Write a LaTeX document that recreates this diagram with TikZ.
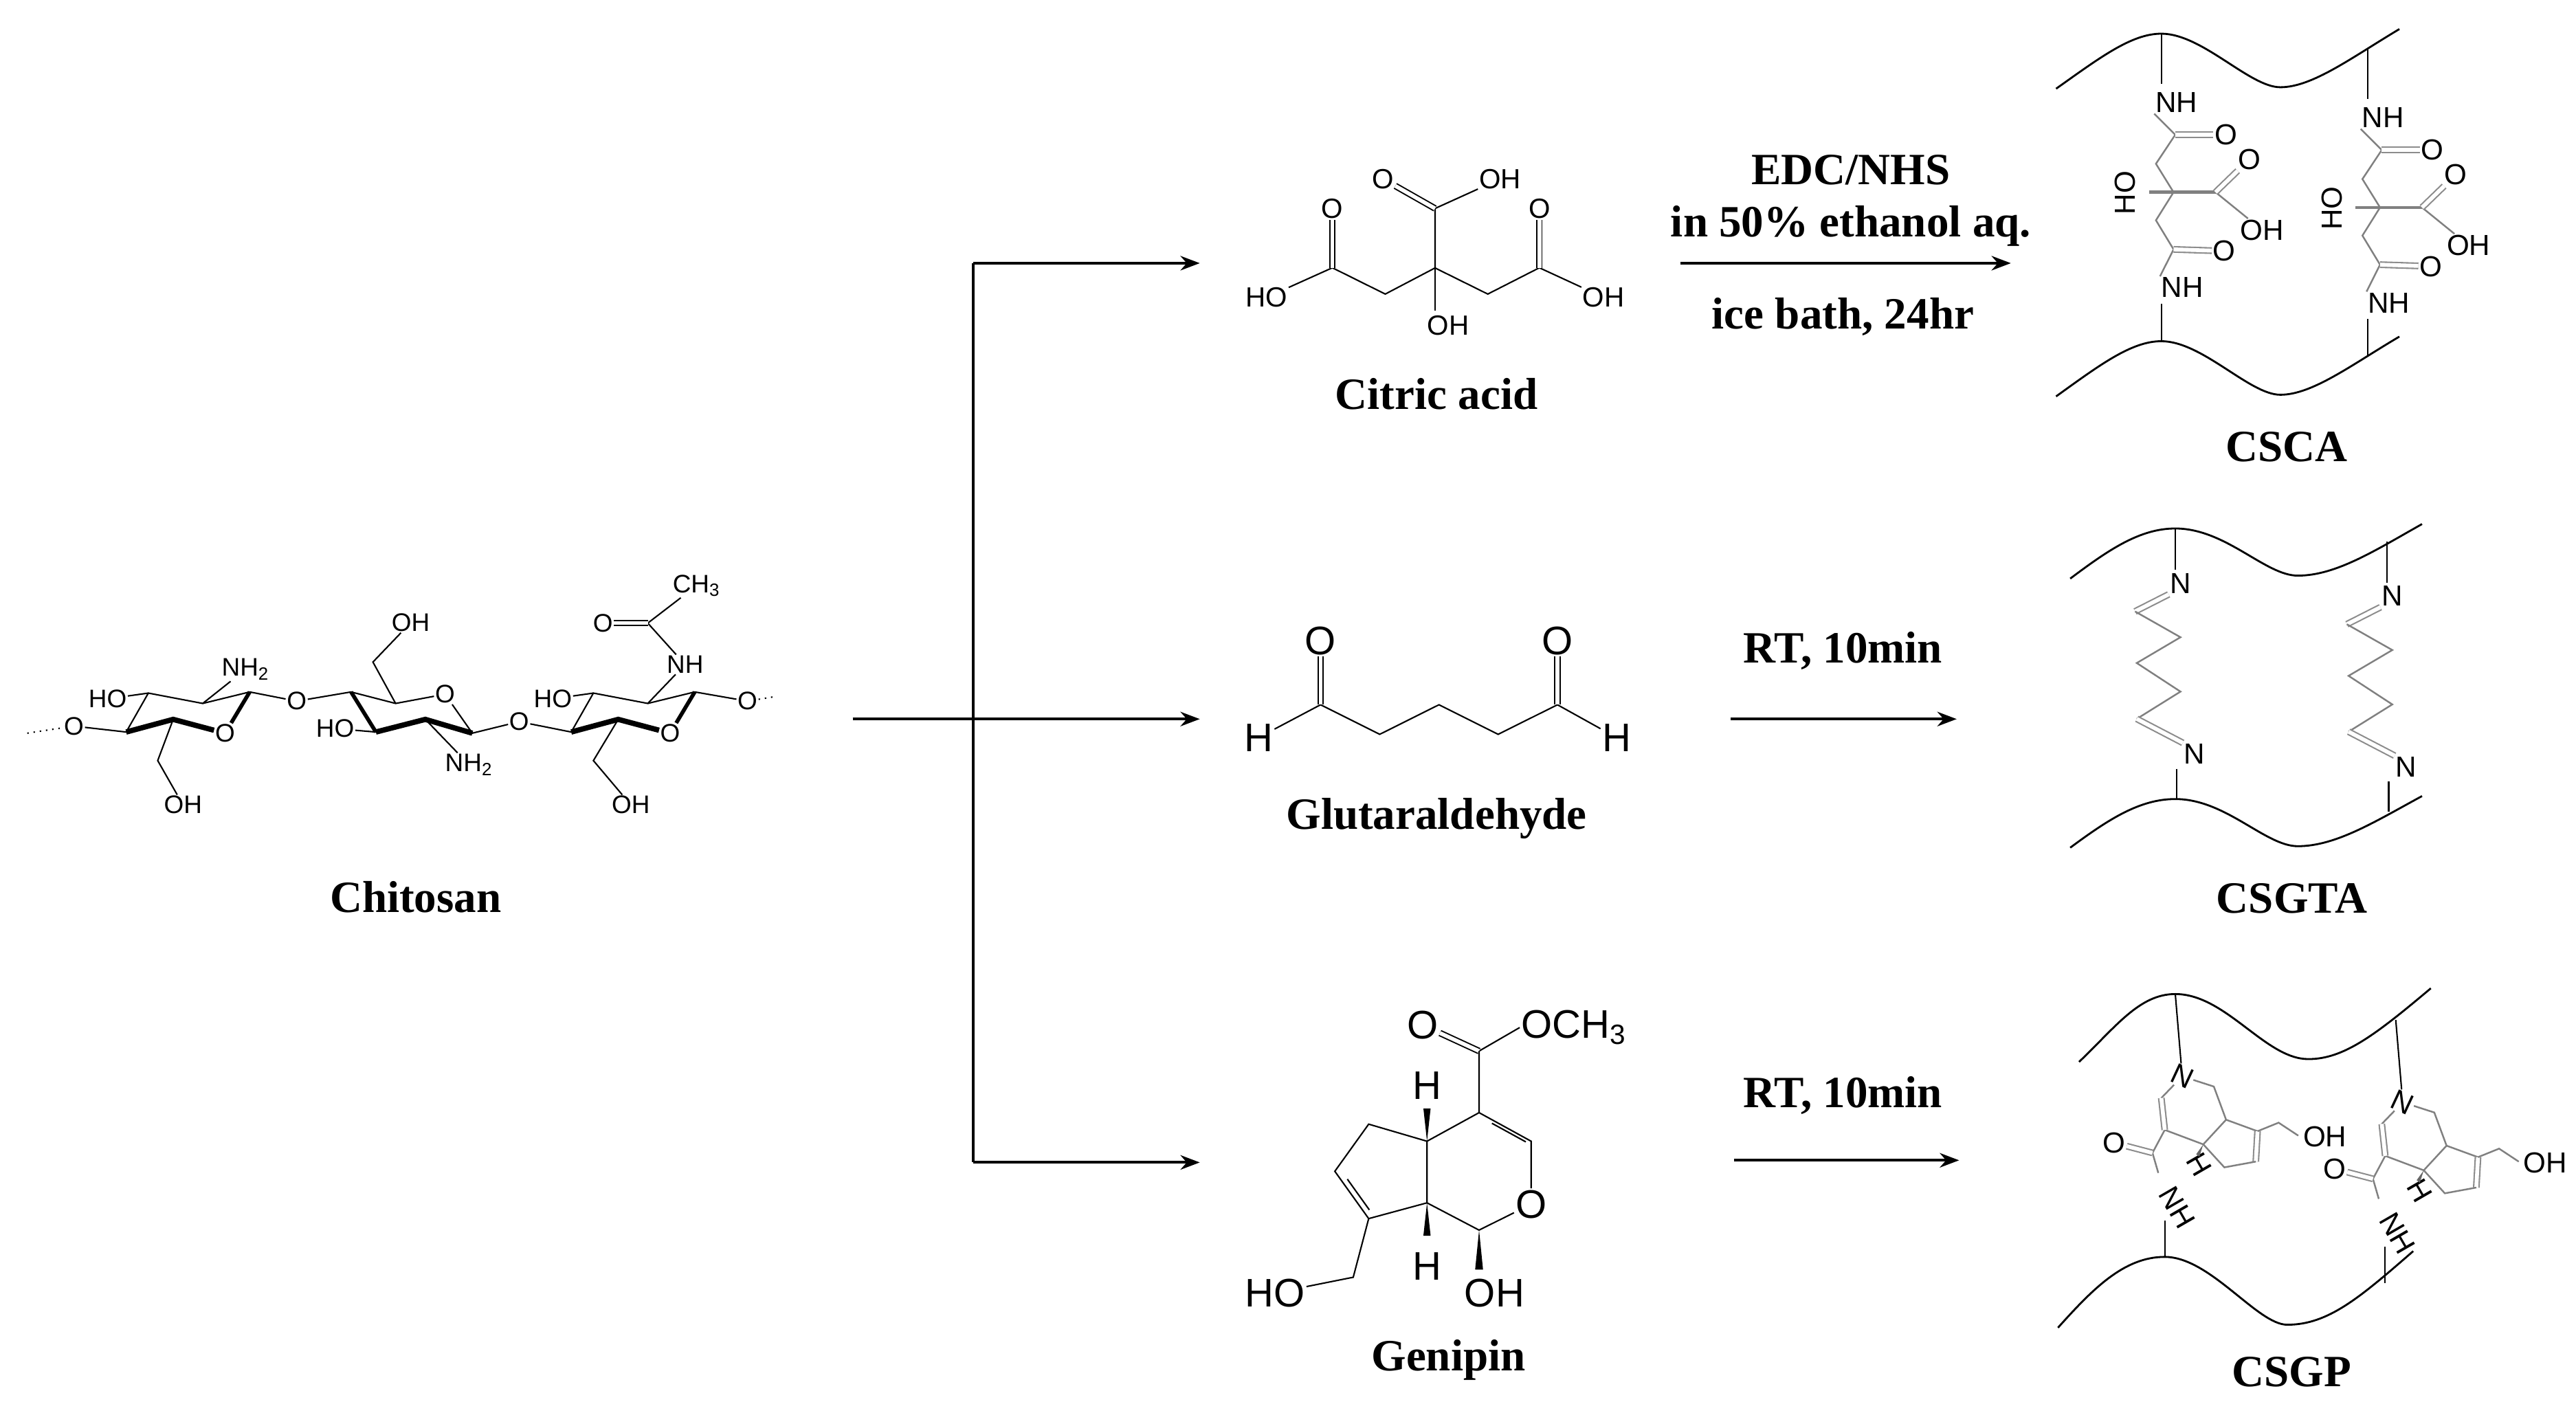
\documentclass[tikz,border=0pt]{standalone}
\usepackage{fontspec}
\setmainfont{Liberation Serif}
\setsansfont{Liberation Sans}
\usetikzlibrary{arrows.meta,calc}
\newcommand{\atomA}{\sffamily\fontsize{10.5}{11}\selectfont}
\newcommand{\atomB}{\sffamily\fontsize{11.5}{13}\selectfont}
\newcommand{\atomD}{\sffamily\fontsize{12}{13}\selectfont}
\newcommand{\atomC}{\sffamily\fontsize{16.5}{18}\selectfont}
\newcommand{\labF}{\rmfamily\bfseries\fontsize{18.5}{21}\selectfont}
\begin{document}
\begin{tikzpicture}[x=0.0239cm,y=-0.0239cm,
  bd/.style={line width=0.6pt},
  bold/.style={line width=2.2pt},
  gb/.style={line width=0.7pt,draw=black!50},
  dbl/.style={double,double distance=1.6pt,line width=0.55pt},
  gdbl/.style={double,double distance=1.6pt,line width=0.6pt,draw=black!45},
  chain/.style={line width=0.8pt},
  atm/.style={font=\atomA,inner sep=0.3pt},
  atb/.style={font=\atomB,inner sep=0.3pt},
  atd/.style={font=\atomD,inner sep=0.3pt},
  atc/.style={font=\atomC,inner sep=0.5pt},
  lab/.style={font=\labF,inner sep=1pt},
  arr/.style={line width=1.1pt,-{Stealth[length=8pt,width=6pt]}}]
\useasboundingbox (0,0) rectangle (1568,860);

% ================= Chitosan =================
\coordinate (a4) at (76.8,445.6); \coordinate (a3) at (90.3,421.9);
\coordinate (a2) at (123.4,428.2); \coordinate (a1) at (152,421.2);
\coordinate (a5) at (105.4,437.9); \node[atm] (aO5) at (137,446.3) {O};
\node[atm] (aOL) at (45,442) {O}; \coordinate (aDL) at (16.6,446.3);
\node[atm] (aHO) at (65.5,425.4) {HO};
\node[atm] (aN) at (149.5,407.5) {NH\textsubscript{2}};
\coordinate (a6) at (96,463); \node[atm] (aOH) at (111.4,490) {OH};
\node[atm] (g1) at (180.6,426.8) {O};
\coordinate (b4) at (213.7,421.2); \coordinate (b5) at (240.8,428.2);
\node[atm] (bO5) at (270.9,422.6) {O};
\coordinate (b1) at (287.5,446.3); \coordinate (b2) at (258.9,437.9);
\coordinate (b3) at (228.8,445.6);
\node[atm] (bHO) at (204,443.5) {HO};
\coordinate (b6) at (227,403); \node[atm] (bOH) at (250,379) {OH};
\node[atm] (bN) at (285.5,465.5) {NH\textsubscript{2}};
\node[atm] (g2) at (316,439.3) {O};
\coordinate (c4) at (347.7,445.6); \coordinate (c3) at (361.2,421.9);
\coordinate (c2) at (394.3,428.2); \coordinate (c1) at (422.9,421.2);
\coordinate (c5) at (376.3,437.9); \node[atm] (cO5) at (407.9,446.3) {O};
\node[atm] (cHO) at (336.5,425.4) {HO};
\node[atm] (cN) at (417,404.5) {NH};
\coordinate (cac) at (394.3,379.3); \node[atm] (cAO) at (367,379.3) {O};
\node[atm] (cMe) at (424,356.5) {CH\textsubscript{3}};
\node[atm] (cOR) at (455,426.8) {O}; \coordinate (cDR) at (472,424);
\coordinate (c6) at (361.2,463); \node[atm] (cOH) at (384,490) {OH};

\draw[bd,dotted] (aDL) -- (aOL);
\draw[bd] (aOL) -- (a4) -- (a3) -- (a2) -- (a1) -- (g1) -- (b4) -- (b5) -- (bO5) -- (b1) -- (g2) -- (c4) -- (c3) -- (c2) -- (c1) -- (cOR);
\draw[bd,dotted] (cOR) -- (cDR);
\draw[bold] (a4) -- (a5) -- (aO5);
\draw[line width=1.6pt] (a1) -- (aO5);
\draw[bold] (c4) -- (c5) -- (cO5);
\draw[line width=1.6pt] (c1) -- (cO5);
\draw[bold] (b1) -- (b2) -- (b3);
\draw[line width=1.6pt] (b3) -- (b4);
\draw[bd] (a3) -- (aHO); \draw[bd] (a2) -- (aN); \draw[bd] (a5) -- (a6) -- (aOH);
\draw[bd] (b3) -- (bHO); \draw[bd] (b5) -- (b6) -- (bOH); \draw[bd] (b2) -- (bN);
\draw[bd] (c3) -- (cHO); \draw[bd] (c2) -- (cN) -- (cac) -- (cMe);
\draw[dbl] (cac) -- (cAO);
\draw[bd] (c5) -- (c6) -- (cOH);
\node[lab] (chitosan) at (253,546) {Chitosan};

% ================= branches =================
\coordinate (s0) at (519,437.7);
\coordinate (vt) at (592.4,160.2); \coordinate (vb) at (592.4,707.6);
\coordinate (e1) at (730.3,160.2); \coordinate (e2) at (730.3,437.7); \coordinate (e3) at (730.3,707.6);
\draw[line width=1.1pt] (vt) -- (vb);
\draw[arr] (vt) -- (e1);
\draw[arr] (s0) -- (e2);
\draw[arr] (vb) -- (e3);

% ================= Citric acid =================
\coordinate (k0) at (873.5,163.1); \coordinate (kt) at (873.5,126.9);
\node[atb] (kO1) at (842,109) {O}; \node[atb] (kOH1) at (913,109) {OH};
\coordinate (kl2) at (843.2,179); \coordinate (kl) at (811,163);
\node[atb] (kO2) at (811,127) {O}; \node[atb] (kHO) at (771,181) {HO};
\coordinate (kr2) at (905.6,179); \coordinate (kr) at (937,163);
\node[atb] (kO3) at (937,127) {O}; \node[atb] (kOH3) at (976,181) {OH};
\node[atb] (kOH) at (881.6,198) {OH};
\draw[bd] (kHO) -- (kl) -- (kl2) -- (k0) -- (kr2) -- (kr) -- (kOH3);
\draw[bd] (k0) -- (kt) -- (kOH1); \draw[bd] (k0) -- (873.5,189);
\draw[dbl] (kt) -- (kO1); \draw[dbl] (kl) -- (kO2); \draw[dbl] (kr) -- (kO3);
\node[lab] (citric) at (874.4,240) {Citric acid};

% ================= Glutaraldehyde =================
\node[atc] (gH1) at (766,449) {H}; \coordinate (gc1) at (803.8,429);
\node[atc] (gO1) at (803.8,390) {O};
\coordinate (gc2) at (839.8,447); \coordinate (gc3) at (875.9,429);
\coordinate (gc4) at (911.9,447); \coordinate (gc5) at (948,429);
\node[atc] (gO5) at (948,390) {O}; \node[atc] (gH5) at (984,449) {H};
\draw[bd] (gH1) -- (gc1) -- (gc2) -- (gc3) -- (gc4) -- (gc5) -- (gH5);
\draw[dbl] (gc1) -- (gO1); \draw[dbl] (gc5) -- (gO5);
\node[lab] (glut) at (874.4,498.4) {Glutaraldehyde};

% ================= Genipin =================
\node[atc] (pO1) at (866,624) {O};
\node[atc,anchor=west] (pOMe) at (925,625.5) {OCH\textsubscript{3}};
\coordinate (pc) at (900.3,639.8); \coordinate (p4) at (900.3,677.3);
\coordinate (p3) at (932,694.7); \node[atc] (pOr) at (932,733) {O};
\coordinate (p1) at (900.3,748.8); \node[atc] (pOH) at (909.7,787) {OH};
\coordinate (p7a) at (868.6,732.2); \node[atc] (pH2) at (868.6,771) {H};
\coordinate (p4a) at (868.6,694.7); \node[atc] (pH1) at (868.6,661) {H};
\coordinate (p5) at (833.1,684.3); \coordinate (p6) at (812.5,713);
\coordinate (p7) at (833.1,741.8); \coordinate (p8) at (823.7,777.5);
\node[atc] (pHO) at (776,787) {HO};
\draw[bd] (pc) -- (pOMe.west);
\draw[dbl] (pc) -- (pO1);
\draw[bd] (pc) -- (p4) -- (p3) -- (pOr) -- (p1) -- (p7a) -- (p4a) -- (p4);
\draw[bd] (p4a) -- (p5) -- (p6) -- (p7) -- (p7a);
\draw[bd] ($(p4)!0.2!(p3)+(1.5,3)$) -- ($(p4)!0.85!(p3)+(1.5,3)$);
\draw[bd] ($(p6)!0.2!(p7)+(3.5,-1)$) -- ($(p6)!0.85!(p7)+(3.5,-1)$);
\draw[bd] (p7) -- (p8) -- (pHO);
\fill (p4a) -- ++(-2.2,-20) -- ++(4.4,0) -- cycle;
\fill (p7a) -- ++(-2.2,20) -- ++(4.4,0) -- cycle;
\fill (p1) -- ++(-2.4,24) -- ++(4.8,0) -- cycle;
\node[lab] (genipin) at (881.7,828) {Genipin};

% ================= reaction arrows =================
\coordinate (r1a) at (1023,160.2); \coordinate (r1b) at (1224,160.2);
\draw[arr] (r1a) -- (r1b);
\node[lab] (t1) at (1126.6,103.4) {EDC/NHS};
\node[lab] (t2) at (1126.6,137.5) {in 50\% ethanol aq.};
\node[lab] (t3) at (1121.8,193) {ice bath, 24hr};
\coordinate (r2a) at (1053.6,437.7); \coordinate (r2b) at (1191,437.7);
\draw[arr] (r2a) -- (r2b);
\node[lab] (t4) at (1121.8,396) {RT, 10min};
\coordinate (r3a) at (1055.5,706.3); \coordinate (r3b) at (1192.5,706.3);
\draw[arr] (r3a) -- (r3b);
\node[lab] (t5) at (1121.8,667) {RT, 10min};

\begin{scope}[x=0.022872cm, xshift=1.269cm]
% ================= CSCA =================
\draw[chain] (1252,54) .. controls (1280,35) and (1300,20.5) .. (1318.9,20.5)
  .. controls (1345,20.5) and (1375,53.1) .. (1394.6,53.1)
  .. controls (1415,53.1) and (1440,35) .. (1470.3,17.7);
\draw[chain] (1252,241.3) .. controls (1280,222) and (1300,207.7) .. (1318.9,207.7)
  .. controls (1345,207.7) and (1375,240.3) .. (1394.6,240.3)
  .. controls (1415,240.3) and (1440,222) .. (1470.3,204.9);
\foreach \dx/\dy/\n in {0/0/L,131.3/9.3/R}{
 \begin{scope}[shift={(\dx,\dy)}]
  \coordinate (xT\n) at (1318.9,20.5);
  \coordinate (xTe\n) at (1318.9,51);
  \node[atd] (xN1\n) at (1328.5,62.4) {NH};
  \coordinate (xC1\n) at (1327.8,82);
  \node[atd] (xO1\n) at (1360,82) {O};
  \coordinate (xM1\n) at (1315.5,99.7);
  \coordinate (xQ\n) at (1326.7,117);
  \node[atd,rotate=90] (xHO\n) at (1296,117.4) {HO};
  \coordinate (xHOe\n) at (1311,117);
  \coordinate (xK\n) at (1353.4,117);
  \node[atd] (xO2\n) at (1375,97) {O};
  \node[atd] (xOH\n) at (1383,140) {OH};
  \coordinate (xM2\n) at (1315.5,134.1);
  \coordinate (xC2\n) at (1326.7,151.8);
  \node[atd] (xO3\n) at (1359,152.8) {O};
  \node[atd] (xN2\n) at (1332.2,175) {NH};
  \coordinate (xBe\n) at (1318.9,185);
  \coordinate (xB\n) at (1318.9,207.7);
  \draw[bd] (xT\n) -- (xTe\n);
  \draw[bd] (xBe\n) -- (xB\n);
  \draw[gb] (xN1\n.south west) -- (xC1\n) -- (xM1\n) -- (xQ\n) -- (xM2\n) -- (xC2\n) -- (xN2\n.north west);
  \draw[gb,line width=1.3pt] (xHOe\n) -- (xQ\n) -- (xK\n);
  \draw[gb] (xK\n) -- (xOH\n);
  \draw[gdbl] (xC1\n) -- (xO1\n); \draw[gdbl] (xC2\n) -- (xO3\n);
  \draw[gdbl] (xK\n) -- (xO2\n);
 \end{scope}}

% ================= CSGTA =================
\draw[chain] (1261,352.2) .. controls (1285,335) and (1305,321.7) .. (1327.8,321.7)
  .. controls (1360,321.7) and (1385,350.4) .. (1405.7,350.4)
  .. controls (1430,350.4) and (1455,335) .. (1484.7,319);
\draw[chain] (1261,516) .. controls (1285,499) and (1305,486.4) .. (1327.8,486.4)
  .. controls (1360,486.4) and (1385,515.1) .. (1405.7,515.1)
  .. controls (1430,515.1) and (1455,500) .. (1484.7,484.6);
\foreach \dx/\dy/\n in {0/0/L,134.7/7.8/R}{
 \begin{scope}[shift={(\dx,\dy)}]
  \coordinate (yT\n) at (1327.8,321.7);
  \node[atd] (yN1\n) at (1331,355) {N};
  \coordinate (y1\n) at (1302.2,372.2); \coordinate (y2\n) at (1331.1,387.9);
  \coordinate (y3\n) at (1303.3,403.6); \coordinate (y4\n) at (1331.1,421);
  \coordinate (y5\n) at (1303.3,437.6);
  \node[atd] (yN2\n) at (1340,459) {N};
  \coordinate (yB\n) at (1328.8,486.4);
  \coordinate (yTe\n) at (1327.8,347); \coordinate (yBe\n) at (1328.8,468);
  \draw[bd] (yT\n) -- (yTe\n);
  \draw[bd] (yBe\n) -- (yB\n);
  \draw[gdbl] (yN1\n.south west) -- (y1\n);
  \draw[gb] (y1\n) -- (y2\n) -- (y3\n) -- (y4\n) -- (y5\n);
  \draw[gdbl] (y5\n) -- (yN2\n.north west);
 \end{scope}}

% ================= CSGP =================
\draw[chain] (1266.6,646.4) .. controls (1290,625) and (1305,605.1) .. (1327.8,605.1)
  .. controls (1360,605.1) and (1385,644.7) .. (1412.4,644.7)
  .. controls (1435,644.7) and (1455,630) .. (1490.3,601.6);
\draw[chain] (1253.2,808.2) .. controls (1275,785) and (1295,765.1) .. (1321.1,765.1)
  .. controls (1350,765.1) and (1380,806.4) .. (1399,806.4)
  .. controls (1425,806.4) and (1445,790) .. (1479.1,761.6);
\foreach \dx/\dy/\n in {0/0/L,140.2/15.8/R}{
 \begin{scope}[shift={(\dx,\dy)}]
  \coordinate (zT\n) at (1327.8,605.1);
  \node[atd,rotate=-25] (zN\n) at (1332.2,655.2) {N};
  \coordinate (z1\n) at (1318.9,668.4); \coordinate (z2\n) at (1321.1,687.8);
  \coordinate (z4a\n) at (1345.6,696.6); \coordinate (z7a\n) at (1360.1,681.6);
  \coordinate (zc\n) at (1352.3,661.4);
  \coordinate (z6\n) at (1380.1,688.6); \coordinate (z5\n) at (1379,707.1);
  \coordinate (z4\n) at (1359,710.6);
  \coordinate (zm\n) at (1393.5,683.4); \coordinate (zm2\n) at (1406,691.3);
  \node[atd] (zOH\n) at (1423,692) {OH};
  \coordinate (za\n) at (1313.3,701.8);
  \node[atd] (zO\n) at (1289,695.7) {O};
  \node[atd,rotate=-60] (zNH\n) at (1329,735) {NH};
  \node[atd,rotate=-60] (zH\n) at (1343,709) {H};
  \coordinate (zBt\n) at (1321.1,743);
  \coordinate (zB\n) at (1321.1,765.1);
  \coordinate (zae\n) at (1317,714);
  \draw[bd] (zT\n) -- (zN\n);
  \draw[bd] (zBt\n) -- (zB\n);
  \draw[gb] (zN\n) -- (zc\n) -- (z7a\n) -- (z4a\n) -- (z2\n) -- (za\n) -- (zae\n);
  \draw[gb] (zN\n) -- (z1\n);
  \draw[gdbl] (z1\n) -- (z2\n);
  \draw[gb] (z7a\n) -- (z6\n); \draw[gdbl] (z6\n) -- (z5\n);
  \draw[gb] (z5\n) -- (z4\n) -- (z4a\n);
  \draw[gb] (z6\n) -- (zm\n) -- (zm2\n);
  \draw[gdbl] (za\n) -- (zO\n);
  \fill[black!60] (z4a\n) -- ++(-4.5,6) -- ++(2,1.5) -- cycle;
 \end{scope}}
\end{scope}
\node[lab] (csca) at (1392,272) {CSCA};
\node[lab] (csgta) at (1395,547) {CSGTA};
\node[lab] (csgp) at (1395,835) {CSGP};
\end{tikzpicture}
\end{document}
